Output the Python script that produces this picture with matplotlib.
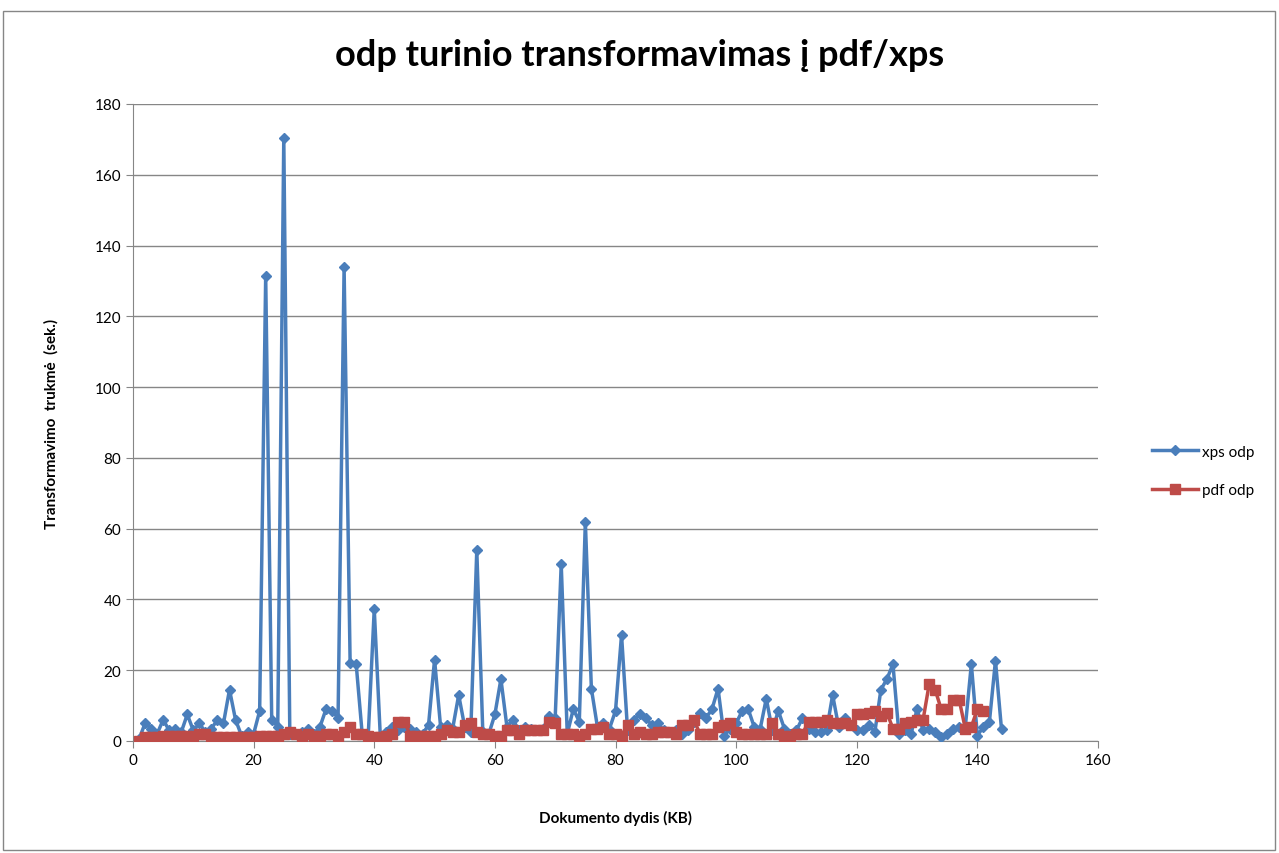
import numpy as np
import matplotlib
matplotlib.use("Agg")
import matplotlib.pyplot as plt
from matplotlib.patches import Rectangle

plt.rcParams['font.family'] = ['Lato', 'DejaVu Sans']

# xps odp: document size 1..144 KB
xps_x = np.arange(1, 145)
xps_y = [0.5, 5, 3.5, 2, 6, 3, 3.5, 2.5, 7.5, 3,
         5, 2.5, 3.5, 6, 5, 14.5, 6, 1.5, 2.5, 2,
         8.5, 131.5, 6, 4, 170.5, 2, 2, 2.5, 3.5, 2,
         4, 9, 8.5, 6.5, 133.8, 22, 21.8, 2, 1.5, 37.3,
         1.5, 2.5, 4, 3, 4, 3.5, 2.5, 2, 4.5, 23,
         4, 4.5, 3.5, 13, 4, 2.5, 54, 2.5, 2, 7.5,
         17.5, 4, 6, 3, 4, 3.5, 3, 3.5, 7, 6.5,
         50, 2, 9, 5.5, 62, 14.8, 4, 5, 3.5, 8.5,
         30, 3, 6, 7.5, 6.5, 4.5, 5, 3, 2.5, 3,
         2, 3, 5.5, 8, 6.5, 9, 14.8, 1.5, 3.5, 5,
         8.5, 9, 4, 3.5, 12, 3, 8.5, 3.5, 2, 3,
         6.5, 3.5, 2.5, 2.5, 3, 13, 4, 6.5, 4.5, 3,
         3, 4.5, 2.5, 14.5, 17.5, 21.7, 2, 3, 2, 9,
         3, 3.5, 2.5, 1, 2, 3.5, 4, 4, 21.7, 1.5,
         4, 5.5, 22.7, 3.3]

# pdf odp: document size 1..141 KB
pdf_x = np.arange(1, 142)
pdf_y = [0, 1, 1, 1.2, 1.5, 1.5, 1.5, 1.5, 1.5, 1.5,
         2, 2, 1.2, 1.2, 1, 1, 1, 1, 1, 1,
         1.5, 1.5, 1.5, 1.5, 2, 2.5, 2, 1.5, 2, 1.5,
         1.5, 2, 2, 1.5, 2.5, 4, 2, 2, 1.5, 1,
         1, 1.5, 2, 5.5, 5.5, 1.5, 1.5, 1.5, 1.5, 1.5,
         2, 3, 2.5, 2.5, 4.5, 5, 2.5, 2, 2, 1.5,
         1.5, 3, 3, 2, 3, 3, 3, 3, 5.5, 5,
         2, 2, 2, 1.5, 2, 3.5, 3.5, 4, 2, 2,
         1.5, 4.5, 2, 2.5, 2, 2, 2.5, 2.5, 2.5, 2,
         4.5, 4.5, 6, 2, 2, 2, 4, 4.5, 5, 2.5,
         2, 2, 2, 2, 2, 5, 2, 1.5, 1.5, 2,
         2, 5.5, 5.5, 5.5, 6, 5, 5, 5, 4.5, 7.5,
         7.5, 8, 8.5, 7, 8, 3.5, 3.5, 5, 5.5, 6,
         6, 16, 14.5, 9, 9, 11.5, 11.5, 3.5, 4, 9,
         8.5]

fig = plt.figure(figsize=(12.79, 8.54), dpi=100)
fig.patches.append(Rectangle((3 / 1279, 3 / 854), 1272 / 1279, 839 / 854,
                             transform=fig.transFigure, fill=False,
                             edgecolor='#868686', lw=1))
ax = fig.add_axes([133 / 1279, 1 - 742 / 854, 965 / 1279, 637 / 854])

ax.plot(xps_x, xps_y, color='#4A7EBB', lw=2.5, marker='D', ms=5,
        label='xps odp', zorder=3)
ax.plot(pdf_x, pdf_y, color='#BE4B48', lw=2.5, marker='s', ms=7,
        label='pdf odp', zorder=4)

ax.set_xlim(0, 160)
ax.set_ylim(0, 180)
ax.set_xticks(range(0, 161, 20))
ax.set_yticks(range(0, 181, 20))
ax.grid(axis='y', color='#868686', lw=1)
ax.set_axisbelow(True)
for s in ['top', 'right']:
    ax.spines[s].set_visible(False)
for s in ['left', 'bottom']:
    ax.spines[s].set_color('#868686')
ax.tick_params(colors='#868686', labelcolor='black', labelsize=11,
               length=5, direction='out')

ax.set_xlabel('Dokumento dydis (KB)', fontsize=11, fontweight='bold', labelpad=31)
ax.set_ylabel('Transformavimo  trukmė  (sek.)', fontsize=11, fontweight='bold',
              labelpad=26)
fig.text(0.5, 1 - 55 / 854, 'odp turinio transformavimas į pdf/xps',
         ha='center', va='center', fontsize=26, fontweight='bold')

fig.legend(loc='center left', bbox_to_anchor=(1138 / 1279, 1 - 472 / 854),
           frameon=False, fontsize=11, handlelength=3, labelspacing=1.6,
           handletextpad=0.3)

fig.savefig('out.png', dpi=100)
